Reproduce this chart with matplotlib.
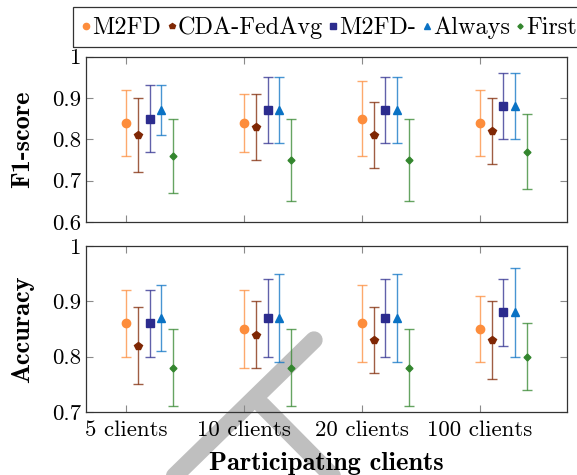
import matplotlib
matplotlib.use('Agg')
import matplotlib.pyplot as plt
from matplotlib.lines import Line2D
from matplotlib.patches import Rectangle
import numpy as np

plt.rcParams['font.family'] = ['cmr10', 'DejaVu Serif']
plt.rcParams['axes.formatter.use_mathtext'] = True

clients = ['5 clients', '10 clients', '20 clients', '100 clients']
methods = ['M2FD', 'CDA-FedAvg', 'M2FD-', 'Always', 'First']
colors = ['#fd8d3c', '#7f2704', '#2c2c8e', '#0a72c4', '#33862e']
markers = ['o', 'p', 's', '^', 'D']
msizes = [6, 5.5, 6, 5.5, 3.5]

# F1-score: mean, lower, upper (per method, per client setting)
f1_mean = [[0.84, 0.84, 0.85, 0.84],
           [0.81, 0.83, 0.81, 0.82],
           [0.85, 0.87, 0.87, 0.88],
           [0.87, 0.87, 0.87, 0.88],
           [0.76, 0.75, 0.75, 0.77]]
f1_low = [[0.76, 0.77, 0.76, 0.76],
          [0.72, 0.75, 0.73, 0.74],
          [0.77, 0.79, 0.79, 0.80],
          [0.81, 0.79, 0.79, 0.80],
          [0.67, 0.65, 0.65, 0.68]]
f1_high = [[0.92, 0.91, 0.94, 0.92],
           [0.90, 0.91, 0.89, 0.90],
           [0.93, 0.95, 0.95, 0.96],
           [0.93, 0.95, 0.95, 0.96],
           [0.85, 0.85, 0.85, 0.86]]

acc_mean = [[0.86, 0.85, 0.86, 0.85],
            [0.82, 0.84, 0.83, 0.83],
            [0.86, 0.87, 0.87, 0.88],
            [0.87, 0.87, 0.87, 0.88],
            [0.78, 0.78, 0.78, 0.80]]
acc_low = [[0.80, 0.78, 0.79, 0.79],
           [0.75, 0.78, 0.77, 0.76],
           [0.80, 0.80, 0.80, 0.82],
           [0.81, 0.79, 0.79, 0.80],
           [0.71, 0.71, 0.71, 0.74]]
acc_high = [[0.92, 0.92, 0.93, 0.91],
            [0.89, 0.90, 0.89, 0.90],
            [0.92, 0.94, 0.94, 0.94],
            [0.93, 0.95, 0.95, 0.96],
            [0.85, 0.85, 0.85, 0.86]]

W, H = 577, 475
fig = plt.figure(figsize=(W/100, H/100), dpi=100)

# grey watermark strokes behind everything
for (x0, y0), (x1, y1) in [((314, 340), (150, 500)), ((262, 405), (356, 500))]:
    fig.add_artist(Line2D([x0/W, x1/W], [1-y0/H, 1-y1/H], transform=fig.transFigure,
                          color='#bfbfbf', lw=12.5, solid_capstyle='round', zorder=-5))

ax1 = fig.add_axes([86/W, 1-222/H, 481/W, 165.5/H])
ax2 = fig.add_axes([86/W, 1-412/H, 481/W, 166/H])

xs = np.arange(len(clients))

def draw(ax, mean, low, high):
    ax.set_facecolor('none')
    for i in range(len(methods)):
        m = np.array(mean[i]); lo = np.array(low[i]); hi = np.array(high[i])
        ax.errorbar(xs + 0.1*i, m, yerr=[m - lo, hi - m], fmt='none',
                    ecolor=colors[i], elinewidth=1.0, capsize=3.5, capthick=1.0, alpha=0.75)
        ax.plot(xs + 0.1*i, m, linestyle='none', marker=markers[i], ms=msizes[i],
                color=colors[i], zorder=3)
    ax.set_xlim(-0.34, 3.74)
    ax.set_xticks(xs)
    ax.tick_params(direction='in', top=True, right=True, length=5, width=0.8,
                   color='#8a8a8a', labelsize=16.5)
    ax.tick_params(axis='x', pad=6)
    for s in ax.spines.values():
        s.set_color('#333333')
        s.set_linewidth(0.9)

draw(ax1, f1_mean, f1_low, f1_high)
draw(ax2, acc_mean, acc_low, acc_high)

ax1.set_ylim(0.6, 1.0)
ax1.set_yticks([0.6, 0.7, 0.8, 0.9, 1.0])
ax1.set_yticklabels(['0.6', '0.7', '0.8', '0.9', '1'])
ax1.tick_params(labelbottom=False)

ax2.set_ylim(0.7, 1.0)
ax2.set_yticks([0.7, 0.8, 0.9, 1.0])
ax2.set_yticklabels(['0.7', '0.8', '0.9', '1'])
ax2.set_xticklabels(clients)

bold = dict(family='cmb10', fontsize=19)
ax1.set_ylabel('F1-score', **bold)
ax2.set_ylabel('Accuracy', **bold)
ax1.yaxis.set_label_coords(-0.108, 0.5)
ax2.yaxis.set_label_coords(-0.108, 0.5)
ax2.set_xlabel('Participating clients', labelpad=9, **bold)

# legend box runs off the right edge, as in the original
fig.add_artist(Rectangle((73/W, 1-47/H), 530/W, 40/H, transform=fig.transFigure,
                         fill=False, edgecolor='#333333', lw=0.9))
handles = [Line2D([], [], linestyle='none', marker=markers[i], ms=msizes[i]*0.75,
                  color=colors[i]) for i in range(len(methods))]
fig.legend(handles, methods, loc='upper left', bbox_to_anchor=(73/W, 1-7/H),
           ncol=5, fontsize=17.5, handlelength=0.28, handletextpad=0.12,
           columnspacing=0.28, borderpad=0.4, borderaxespad=0, frameon=False)

fig.savefig('out.png', dpi=100)
